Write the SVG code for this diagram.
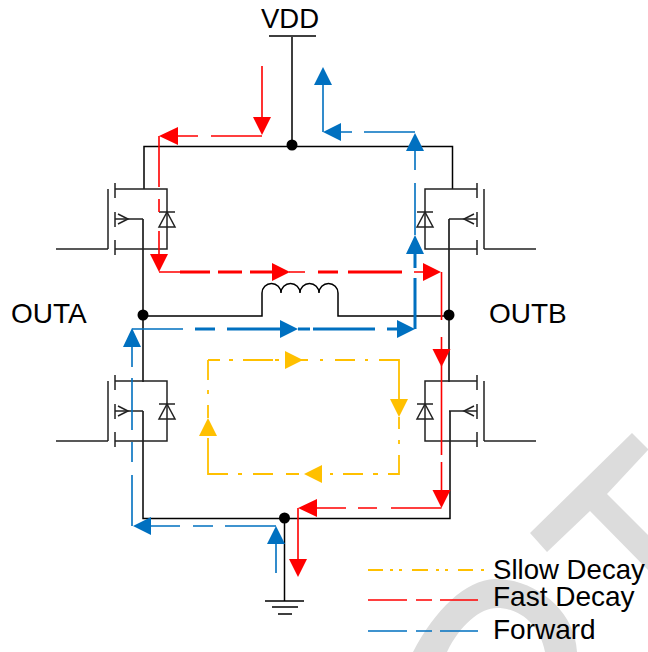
<svg xmlns="http://www.w3.org/2000/svg" width="648" height="652" viewBox="0 0 648 652">
<defs>
<style>
.w{fill:none;stroke:#000;stroke-width:1.5}
.t{fill:none;stroke:#222;stroke-width:1.5}
.d{fill:#000}
.lbl{font-family:"Liberation Sans",Arial,sans-serif;font-size:28px;fill:#000}
.r{fill:none;stroke:#f00;stroke-width:1.6}
.b{fill:none;stroke:#0070c0;stroke-width:1.6}
.y{fill:none;stroke:#ffc000;stroke-width:1.8}
.k{stroke-width:3}
.rf{fill:#f00}.bf{fill:#0070c0}.yf{fill:#ffc000}
.wm{fill:#dcdcdc}
</style>
<g id="fet"><path class="t" d="M108 189V249M56 249H108M115 183V198M115 212V227M115 240V255M115 189H167V249H115M115 219H143"/><path class="t" d="M118 214L128 219L118 224"/></g>
<g id="dio"><path class="t" d="M159 212H175M167 212L159 227H175Z"/></g>
</defs>
<g id="watermark">
<path class="wm" d="M632 433L648 449V450L607 494L648 535V570L590 511L547 552L530 533Z"/>
<path class="wm" d="M413 652C435 610 465 580 495 579C535 579 575 610 577 652H545C540 625 520 608 497 608C480 608 460 625 447 652Z"/>
</g>
<g id="wires">
<path class="w" d="M292 37V146M144 189V146.500H452.500V189M143 219V382M449 219V382M143 411V518.500H450V411M143 316H262V293A9.500 9.500 0 0 1 281 293A9.500 9.500 0 0 1 300 293A9.500 9.500 0 0 1 319 293A9.500 9.500 0 0 1 338 293V316H449M284.500 519V601"/>
<path class="w" d="M269 36H316M265 601H304M272 607H298M278 614H292"/>
</g>
<g id="Q1"><use href="#fet"/><use href="#dio"/></g>
<g id="Q2"><use href="#fet" transform="matrix(-1 0 0 1 592 0)"/><use href="#dio" transform="matrix(-1 0 0 1 592 0)"/></g>
<g id="Q3"><use href="#fet" transform="translate(0 192)"/><use href="#dio" transform="translate(0 192)"/></g>
<g id="Q4"><use href="#fet" transform="matrix(-1 0 0 1 592 192)"/><use href="#dio" transform="matrix(-1 0 0 1 592 192)"/></g>
<g id="junctions">
<circle class="d" cx="292" cy="145" r="5.500"/><circle class="d" cx="143" cy="315" r="5.500"/><circle class="d" cx="449" cy="315" r="5.500"/><circle class="d" cx="284.500" cy="518" r="5.500"/>
</g>
<g id="connectors">
<path class="r" d="M262 66V120M262 136H211M198 136H176M159 136V187M159 199V212M159 231V256M159 272H181M289 272H305M414 272H425M441.500 272V320M441.500 337V352M441.500 365V455M441.500 462V492M441.500 508H391M377 508H358M346 508H315M298 508V561"/>
<path class="r k" d="M180 272H210M218 272H242M250 272H274M318 272H338M348 272H402"/>
<path class="b" d="M276 573V542M276 526H225M213 526H193M180 526H149M132 526V475M132 462V442M132 430V378M132 367V345M132 329H183M415 170V151M415 235V183M415 132H364M352 132H339M323 132V83"/>
<path class="b k" d="M195 329H215M227 329H283M298 329H310M313 329H375M387 329H399M415 329V278M415 268V252"/>
<path class="y" d="M208 360H220M229 360H233M243 360H273M275 360H279M300 360H308M320 360H323M335 360H355M365 360H368M379 360H399V401M399 417V429M399 440V444M399 455V474H388M378 474H373M363 474H343M333 474H330M299 474H286M273 474H253M242 474H238M228 474H208V438M208 418V405M208 394V390M208 380V360"/>
<path class="rf" d="M253 117H271L262 135ZM178 127V145L159 136ZM150 254H168L159 272ZM272 263L290 272L272 281ZM423 263L441 272L423 281ZM432.500 349H450.500L441.500 367ZM432.500 490H450.500L441.500 508ZM317 499V517L298 508ZM289 559H307L298 577Z"/>
<path class="bf" d="M314 85H332L323 67ZM341 123V141L323 132ZM406 151H424L415 133ZM406 254H424L415 235ZM280 320L298 329L280 338ZM397 320L415 329L397 338ZM123 347H141L132 328ZM151 517V535L133 526ZM267 544H285L276 526Z"/>
<path class="yf" d="M285 351L303 360L285 369ZM390 399H408L399 417ZM199 436H217L208 418ZM322 465V483L304 474Z"/>
</g>
<g id="labels">
<text class="lbl" x="261" y="28" style="font-size:27.500px">VDD</text>
<text class="lbl" x="11" y="323">OUTA</text>
<text class="lbl" x="489" y="323">OUTB</text>
</g>
<g id="legend">
<path class="y" d="M368 570H383M390 570H393M399 570H402M412 570H428M436 570H439M445 570H448M458 570H473M481 570H484"/>
<path class="r" d="M368 600H407M416 600H432M440 600H478"/>
<path class="b" d="M368 631H407M416 631H432M440 631H478"/>
<text class="lbl" x="493" y="579" style="font-size:27.600px">Sllow Decay</text>
<text class="lbl" x="493" y="606">Fast Decay</text>
<text class="lbl" x="493" y="639">Forward</text>
</g>
</svg>
